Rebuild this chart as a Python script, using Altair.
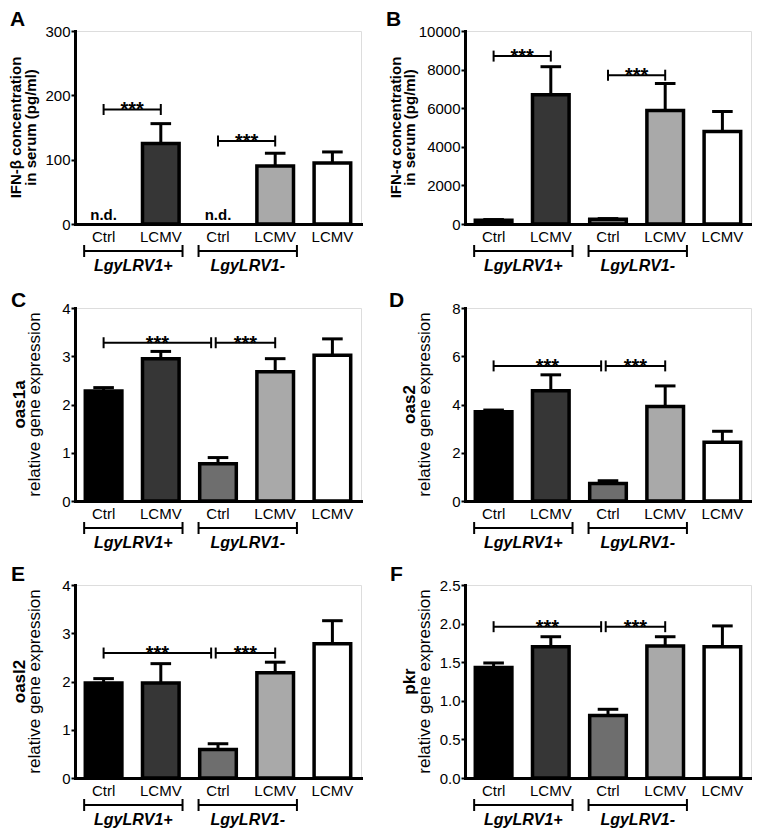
import altair as alt
import pandas as pd

FONT = "Liberation Sans"
W, H = 286, 193

# ---------------- data ----------------
categories = ["Ctrl", "LCMV", "Ctrl", "LCMV", "LCMV"]
bar_ids = ["c1", "l1", "c2", "l2", "l3"]
positions = [1, 2, 3, 4, 5]
palette = ["#000000", "#363636", "#6e6e6e", "#a9a9a9", "#ffffff"]
group_names = ["LgyLRV1+", "LgyLRV1-"]
group_first = [1, 3]
group_last = [2, 4]

# A: IFN-beta
a_mean = [None, 125, None, 90, 95]
a_err = [None, 31, None, 20, 17]
a_nd = ["n.d.", "", "n.d.", "", ""]
a_cmp_from = [1, 3]
a_cmp_to = [2, 4]
a_cmp_y = [178, 129]
a_ticks = [0, 100, 200, 300]

# B: IFN-alpha
b_mean = [200, 6700, 250, 5880, 4790]
b_err = [30, 1450, 30, 1400, 1040]
b_cmp_from = [1, 3]
b_cmp_to = [2, 4]
b_cmp_y = [8700, 7710]
b_ticks = [0, 2000, 4000, 6000, 8000, 10000]

# C: oas1a
c_mean = [2.28, 2.95, 0.77, 2.68, 3.02]
c_err = [0.07, 0.15, 0.13, 0.27, 0.34]
c_cmp_from = [1, 3]
c_cmp_to = [3, 4]
c_cmp_y = [3.28, 3.28]
c_ticks = [0, 1, 2, 3, 4]

# D: oas2
d_mean = [3.70, 4.57, 0.73, 3.92, 2.44]
d_err = [0.07, 0.66, 0.11, 0.85, 0.45]
d_cmp_from = [1, 3]
d_cmp_to = [3, 4]
d_cmp_y = [5.6, 5.6]
d_ticks = [0, 2, 4, 6, 8]

# E: oasl2
e_mean = [1.97, 1.97, 0.59, 2.18, 2.78]
e_err = [0.09, 0.40, 0.12, 0.22, 0.48]
e_cmp_from = [1, 3]
e_cmp_to = [3, 4]
e_cmp_y = [2.59, 2.59]
e_ticks = [0, 1, 2, 3, 4]

# F: pkr
f_mean = [1.43, 1.70, 0.81, 1.71, 1.70]
f_err = [0.06, 0.13, 0.08, 0.12, 0.27]
f_cmp_from = [1, 3]
f_cmp_to = [3, 4]
f_cmp_y = [1.96, 1.96]
f_ticks = [0, 0.5, 1.0, 1.5, 2.0, 2.5]


def panel(letter, means, errs, nd, cmp_from, cmp_to, cmp_y, ticks, fmt,
          title_lines, title_bold, title_size, title_x, letter_xy):
    xs = alt.Scale(domain=[0.5, 5.5], nice=False, zero=False)
    ys = alt.Scale(domain=[0, ticks[-1]], nice=False, zero=True)
    xax = alt.Axis(labels=False, ticks=False, title=None, grid=False)
    yax = alt.Axis(values=ticks, format=fmt, title=None, grid=False)

    def X(f):
        return alt.X(f, type="quantitative", scale=xs, axis=xax)

    def Y(f):
        return alt.Y(f, type="quantitative", scale=ys, axis=yax)

    df = pd.DataFrame({"pos": positions, "cat": categories, "id": bar_ids,
                       "mean": means, "err": errs,
                       "nd": nd if nd else [""] * len(positions)})
    base = alt.Chart(df)
    valid = base.transform_filter("isValid(datum.mean)").transform_calculate(
        bx1="datum.pos - 0.32", bx2="datum.pos + 0.32", zero="0",
        top="datum.mean + datum.err",
        cx1="datum.pos - 0.18", cx2="datum.pos + 0.18")

    err_line = valid.mark_rule(strokeWidth=3, color="black").encode(
        x=X("pos"), y=Y("mean"), y2="top:Q")
    bars = valid.mark_bar(stroke="black", strokeWidth=3.5).encode(
        x=X("bx1"), x2="bx2:Q", y=Y("mean"), y2="zero:Q",
        fill=alt.Fill("id:N", scale=alt.Scale(domain=bar_ids, range=palette), legend=None))
    caps = valid.mark_rule(strokeWidth=3, color="black").encode(
        x=X("cx1"), x2="cx2:Q", y=Y("top"))
    nd_text = base.transform_filter("datum.nd != ''").mark_text(
        font=FONT, fontSize=15, fontWeight="bold", baseline="alphabetic",
        dy=-4, color="black").encode(x=X("pos"), y=alt.value(H), text="nd:N")

    # significance brackets
    sx1, sx2 = [], []
    for f, t in zip(cmp_from, cmp_to):
        s, e = float(f), float(t)
        if t in cmp_from:
            e -= 0.12
        if f in cmp_to:
            s -= 0.04
        sx1.append(s)
        sx2.append(e)
    sdf = pd.DataFrame({"x1": sx1, "x2": sx2, "y": cmp_y,
                        "xm": [(a + b) / 2 for a, b in zip(sx1, sx2)],
                        "lab": ["***"] * len(cmp_y)})
    edf = pd.DataFrame({"x": sx1 + sx2, "y": list(cmp_y) + list(cmp_y)})
    sig_line = alt.Chart(sdf).mark_rule(strokeWidth=2, color="black").encode(
        x=X("x1"), x2="x2:Q", y=Y("y"))
    sig_ticks = alt.Chart(edf).mark_tick(orient="vertical", size=11, thickness=2,
                                         color="black", opacity=1).encode(x=X("x"), y=Y("y"))
    stars = alt.Chart(sdf).mark_text(font=FONT, fontSize=20, fontWeight="bold",
                                     baseline="alphabetic", dy=7, color="black").encode(
        x=X("xm"), y=Y("y"), text="lab:N")

    cat_labels = base.mark_text(font=FONT, fontSize=15, baseline="middle",
                                color="black").encode(
        x=X("pos"), y=alt.value(H + 13), text="cat:N")

    gx1 = [g - 0.34 for g in group_first]
    gx2 = [g + 0.38 for g in group_last]
    gdf = pd.DataFrame({"name": group_names, "gx1": gx1, "gx2": gx2,
                        "gm": [(a + b) / 2 for a, b in zip(gx1, gx2)]})
    gedf = pd.DataFrame({"gx": gx1 + gx2})
    grp_line = alt.Chart(gdf).mark_rule(strokeWidth=2, color="black").encode(
        x=X("gx1"), x2="gx2:Q", y=alt.value(H + 27))
    grp_ticks = alt.Chart(gedf).mark_rule(strokeWidth=2, color="black").encode(
        x=X("gx"), y=alt.value(H + 21), y2=alt.value(H + 33))
    grp_labels = alt.Chart(gdf).mark_text(font=FONT, fontSize=16, fontWeight="bold",
                                          fontStyle="italic", baseline="middle",
                                          color="black").encode(
        x=X("gm"), y=alt.value(H + 42), text="name:N")

    layers = [err_line, bars, caps, nd_text, sig_line, sig_ticks, stars,
              cat_labels, grp_line, grp_ticks, grp_labels]

    for line, bold, size, off in zip(title_lines, title_bold, title_size, title_x):
        layers.append(alt.Chart(pd.DataFrame({"t": [line]})).mark_text(
            font=FONT, fontSize=size, fontWeight="bold" if bold else "normal",
            angle=270, align="center", baseline="alphabetic", color="black").encode(
            x=alt.value(off), y=alt.value(H / 2), text="t:N"))

    layers.append(alt.Chart(pd.DataFrame({"t": [letter]})).mark_text(
        font=FONT, fontSize=21, fontWeight="bold", align="left",
        baseline="alphabetic", color="black").encode(
        x=alt.value(letter_xy[0]), y=alt.value(letter_xy[1]), text="t:N"))

    return alt.layer(*layers).properties(width=W, height=H)


pA = panel("A", a_mean, a_err, a_nd, a_cmp_from, a_cmp_to, a_cmp_y, a_ticks, "d",
           ["IFN-β concentration", "in serum (pg/ml)"], [True, True], [15, 15],
           [-54, -39], (-65, -5))
pB = panel("B", b_mean, b_err, None, b_cmp_from, b_cmp_to, b_cmp_y, b_ticks, "d",
           ["IFN-α concentration", "in serum (pg/ml)"], [True, True], [15, 15],
           [-64, -50], (-79, -5))
pC = panel("C", c_mean, c_err, None, c_cmp_from, c_cmp_to, c_cmp_y, c_ticks, "d",
           ["oas1a", "relative gene expression"], [True, False], [17, 17],
           [-50, -35], (-64, -1))
pD = panel("D", d_mean, d_err, None, d_cmp_from, d_cmp_to, d_cmp_y, d_ticks, "d",
           ["oas2", "relative gene expression"], [True, False], [17, 17],
           [-50, -35], (-76, -1))
pE = panel("E", e_mean, e_err, None, e_cmp_from, e_cmp_to, e_cmp_y, e_ticks, "d",
           ["oasl2", "relative gene expression"], [True, False], [17, 17],
           [-50, -35], (-64, -4))
pF = panel("F", f_mean, f_err, None, f_cmp_from, f_cmp_to, f_cmp_y, f_ticks, ".1f",
           ["pkr", "relative gene expression"], [True, False], [17, 17],
           [-50, -35], (-75, -4))

chart = alt.concat(pA, pB, pC, pD, pE, pF, columns=2,
                   spacing={"row": 84, "column": 104}, bounds="flush").properties(
    padding=0
).configure_view(stroke=None).configure(font=FONT).configure_axis(
    domainWidth=3, domainColor="black", domainCap="square", tickWidth=2, tickSize=4,
    tickColor="black", labelFont=FONT, labelFontSize=15, labelColor="black",
    labelPadding=1, grid=False)

chart.save("out.html", embed_options={"renderer": "svg", "actions": False})
